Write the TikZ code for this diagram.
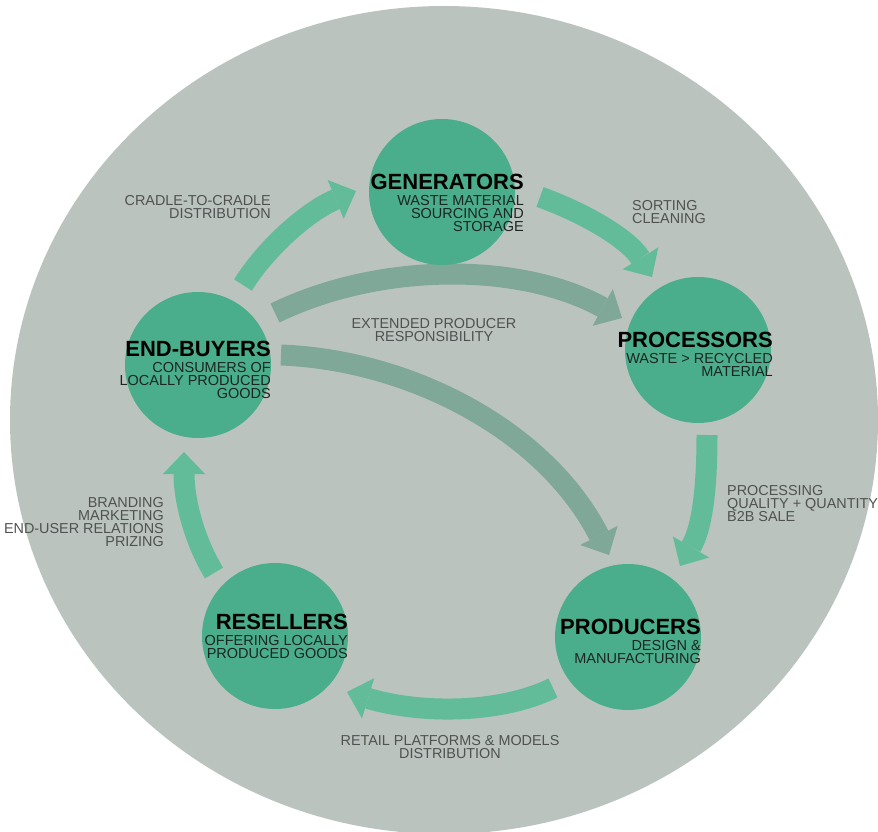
\documentclass[tikz,border=0pt]{standalone}
\usepackage{fontspec}
\setmainfont{Liberation Sans}
\usetikzlibrary{arrows.meta}

\definecolor{bggrey}{HTML}{BBC3BF}
\definecolor{disc}{HTML}{4AAD8B}
\definecolor{flow}{HTML}{62BC99}
\definecolor{epr}{HTML}{80A898}
\definecolor{notec}{HTML}{4F5250}
\definecolor{subc}{HTML}{1C2622}

\newcommand\stagetitle[1]{{\fontsize{22}{22}\selectfont\bfseries\color{black}#1}}

\begin{document}
\begin{tikzpicture}[x=1pt,y=-1pt,
  stage/.style={circle, fill=disc, minimum size=146pt, inner sep=0pt},
  stagetext/.style={align=right, inner sep=0pt, anchor=north east, text=subc,
    font=\fontsize{14.5}{13}\selectfont},
  notetext/.style={inner sep=0pt, text=notec, font=\fontsize{14.4}{13}\selectfont},
  flowarrow/.style={line width=21pt, draw=flow,
    -{Triangle[width=42pt,length=22pt,line width=0pt]}},
  eprarrow/.style={flowarrow, draw=epr},
]
\useasboundingbox (0,0) rectangle (878,832);

% background disc
\fill[bggrey] (444,420) ellipse [x radius=434, y radius=414];

% end points of the flows
\coordinate (a1s) at (243,285); \coordinate (a1e) at (356,191);
\coordinate (a2s) at (540,197); \coordinate (a2e) at (652,277);
\coordinate (a3s) at (707,435); \coordinate (a3e) at (680,566);
\coordinate (a4s) at (553,688); \coordinate (a4e) at (347,692);
\coordinate (a5s) at (214,573); \coordinate (a5e) at (184,452);
\coordinate (a6s) at (275,313); \coordinate (a6e) at (622,318);
\coordinate (a7s) at (281,355); \coordinate (a7e) at (609,555);

% main cycle
\draw[flowarrow] (a1s) .. controls (268,245) and (310,210) .. (a1e);
\draw[flowarrow] (a2s) .. controls (582,212) and (628,238) .. (a2e);
\draw[flowarrow] (a3s) .. controls (707,490) and (702,528) .. (a3e);
\draw[flowarrow] (a4s) .. controls (500,714) and (420,714) .. (a4e);
\draw[flowarrow] (a5s) .. controls (194,540) and (184,500) .. (a5e);

% extended producer responsibility
\draw[eprarrow] (a6s) .. controls (380,262) and (520,262) .. (a6e);
\draw[eprarrow] (a7s) .. controls (410,360) and (545,430) .. (a7e);

% stages
\node[stage] (gen)  at (442,192) {};
\node[stage] (proc) at (698,350) {};
\node[stage] (eb)   at (198,365) {};
\node[stage] (res)  at (275,636) {};
\node[stage] (prod) at (628,637) {};

\node[stagetext] (gent)  at (524,174) {\stagetitle{GENERATORS}\\[3pt]WASTE MATERIAL\\SOURCING AND\\STORAGE};
\node[stagetext] (proct) at (773,332) {\stagetitle{PROCESSORS}\\[3pt]WASTE > RECYCLED\\MATERIAL};
\node[stagetext] (ebt)   at (271,341) {\stagetitle{END-BUYERS}\\[3pt]CONSUMERS OF\\LOCALLY PRODUCED\\GOODS};
\node[stagetext] (rest)  at (348,614) {\stagetitle{RESELLERS}\\[3pt]OFFERING LOCALLY\\PRODUCED GOODS};
\node[stagetext] (prodt) at (701,619) {\stagetitle{PRODUCERS}\\[3pt]DESIGN \&\\MANUFACTURING};

% flow labels
\node[notetext, align=right, anchor=north east] (l1) at (271,195) {CRADLE-TO-CRADLE\\DISTRIBUTION};
\node[notetext, align=left, anchor=north west] (l2) at (632,200) {SORTING\\CLEANING};
\node[notetext, align=center, anchor=north] (l6) at (434,318) {EXTENDED PRODUCER\\RESPONSIBILITY};
\node[notetext, align=left, anchor=north west] (l3) at (727,485) {PROCESSING\\QUALITY + QUANTITY\\B2B SALE};
\node[notetext, align=right, anchor=north east] (l5) at (164,497) {BRANDING\\MARKETING\\END-USER RELATIONS\\PRIZING};
\node[notetext, align=center, anchor=north] (l4) at (450,735) {RETAIL PLATFORMS \& MODELS\\DISTRIBUTION};
\end{tikzpicture}
\end{document}
